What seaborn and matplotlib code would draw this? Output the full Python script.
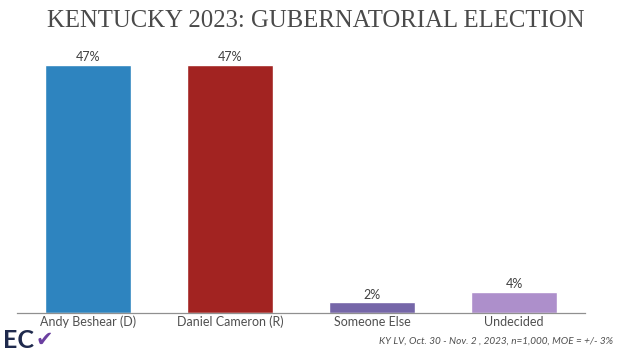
import seaborn as sns
import matplotlib.pyplot as plt
import pandas as pd

# poll numbers
candidates = ["Andy Beshear (D)", "Daniel Cameron (R)", "Someone Else", "Undecided"]
shares = [47, 47, 2, 4]
bar_colors = ["#2e84bf", "#a22321", "#7566a8", "#ad8fcb"]

df = pd.DataFrame({"who": candidates, "pct": shares})

sns.set_style("white")
plt.rcParams["font.family"] = ["Lato", "DejaVu Sans"]

fig = plt.figure(figsize=(6.22, 3.52), dpi=100)
ax = fig.add_axes([0.0273, 0.1108, 0.9132, 0.733])

sns.barplot(data=df, x="who", y="pct", hue="who", palette=bar_colors,
            width=0.61, saturation=1, legend=False, ax=ax)

for i, v in enumerate(shares):
    ax.text(i, v + 0.3, f"{v}%", ha="center", va="bottom", fontsize=9, color="#404040")

ax.set_ylim(0, 48.9)
ax.set_xlim(-0.5, 3.5)
ax.set_xlabel("")
ax.set_ylabel("")
ax.set_yticks([])
ax.tick_params(axis="x", length=0, pad=2, labelsize=9, labelcolor="#505050")
for s in ["top", "right", "left"]:
    ax.spines[s].set_visible(False)
ax.spines["bottom"].set_color("#909090")
ax.spines["bottom"].set_linewidth(0.9)

fig.text(0.508, 0.94, "KENTUCKY 2023: GUBERNATORIAL ELECTION", ha="center", va="center",
         fontsize=17.8, color="#4a4a4a", family="Liberation Serif")
fig.text(0.985, 0.018, "KY LV, Oct. 30 - Nov. 2 , 2023, n=1,000, MOE = +/- 3%",
         ha="right", va="bottom", fontsize=7.2, style="italic", color="#505050")
fig.text(0.005, 0.0, "EC", ha="left", va="bottom", fontsize=18, fontweight="bold",
         color="#1f2a4d")
fig.text(0.058, 0.005, "✔", ha="left", va="bottom", fontsize=15, color="#6b3fa0",
         family="DejaVu Sans")

fig.savefig("out.png", dpi=100)
